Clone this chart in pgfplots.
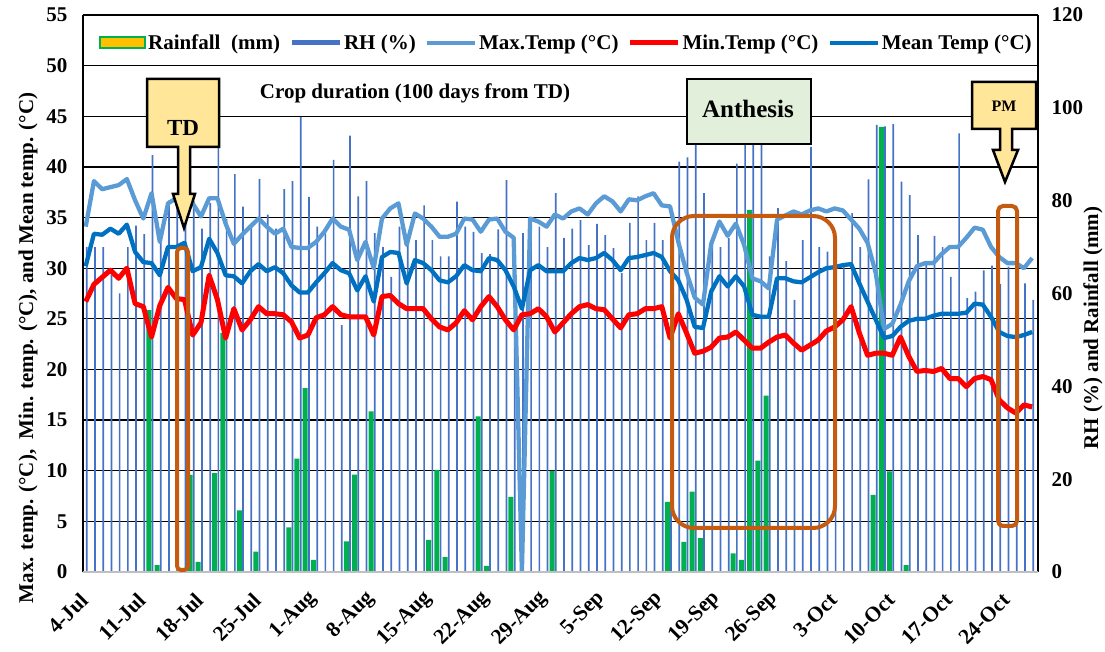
\documentclass[border=0pt]{standalone}
\usepackage{pgfplots}
\pgfplotsset{compat=1.18}
\usepackage{pgfplotstable}
\usepackage{fontspec}
\setmainfont{Liberation Serif}
\definecolor{maxc}{HTML}{5B9BD5}
\definecolor{meanc}{HTML}{0070C0}
\definecolor{minc}{HTML}{FF0000}
\definecolor{rhc}{HTML}{4472C4}
\definecolor{rainc}{HTML}{00B050}
\definecolor{gold}{HTML}{FFC000}
\definecolor{orng}{HTML}{C55A11}
\definecolor{callout}{HTML}{FFE699}
\definecolor{anth}{HTML}{E2EFDA}

\pgfplotstableread{
i max min mean rh
0 34.1 26.7 30.2 70
1 38.6 28.4 33.4 70
2 37.8 29.1 33.3 70
3 38.0 29.8 33.9 64
4 38.2 29.0 33.4 60
5 38.8 30.0 34.3 70
6 36.7 26.5 31.6 74.6
7 34.9 26.2 30.6 72.8
8 37.4 23.2 30.5 89.8
9 32.6 26.3 29.3 72
10 36.4 28.1 32.1 80
11 36.9 27.0 32.1 81
12 35.7 26.9 32.5 76
13 36.4 23.4 29.7 80
14 35.1 24.6 30.1 74
15 36.9 29.3 32.9 79.5
16 36.9 26.9 31.5 92
17 34.4 23.1 29.3 76
18 32.4 26.0 29.2 85.7
19 33.3 23.9 28.5 78.7
20 34.1 24.9 29.7 75
21 34.9 26.2 30.4 84.7
22 34.1 25.5 29.7 77
23 33.4 25.5 30.1 74
24 33.9 25.4 29.5 82.5
25 32.1 24.7 28.3 84.2
26 32.0 23.1 27.6 98
27 32.0 23.4 27.6 80.8
28 32.6 25.1 28.6 74.4
29 33.6 25.4 29.5 74
30 34.9 26.2 30.5 88.8
31 34.1 25.4 29.8 53.2
32 33.8 25.2 29.5 94
33 30.8 25.2 27.8 80.9
34 32.6 25.2 29.2 84.2
35 30.0 23.4 26.7 73
36 34.9 27.2 31.1 70
37 35.9 27.3 31.6 63.6
38 36.4 26.5 31.5 74.4
39 32.3 26.0 28.5 71
40 35.4 26.0 30.8 71.5
41 34.9 26.0 30.5 79
42 34.1 25.0 29.8 71.5
43 33.1 24.2 28.8 68
44 33.1 23.9 28.6 68
45 33.4 24.6 29.2 79.8
46 34.9 25.8 30.3 74.4
47 34.8 24.9 29.8 73.3
48 33.6 26.2 29.7 68.7
49 34.8 27.2 31.0 68.5
50 34.9 26.2 30.8 73.8
51 33.6 24.9 29.8 84.4
52 33.0 23.9 28.2 65
53 0 25.4 26.0 73
54 34.9 25.5 29.8 74
55 34.6 26.0 30.3 74.4
56 34.1 25.2 29.7 70
57 35.3 23.7 29.7 81.6
58 34.9 24.6 29.7 72
59 35.6 25.5 30.5 74
60 35.9 26.2 31.0 75.8
61 35.3 26.4 30.8 70.4
62 36.4 26.0 31.0 75
63 37.1 25.9 31.5 72.6
64 36.6 25.0 30.8 69.8
65 35.6 24.1 29.8 64.4
66 36.8 25.4 31.0 75.2
67 36.7 25.5 31.1 80.9
68 37.1 26.0 31.3 71.5
69 37.4 26.0 31.5 75.2
70 36.2 26.2 31.1 71.5
71 36.1 23.1 29.7 72
72 32.6 25.5 28.8 88.4
73 29.6 23.6 26.9 89.3
74 27.1 21.6 24.2 95
75 26.4 21.8 24.1 81.6
76 32.4 22.2 27.7 72
77 34.6 23.1 29.2 70
78 33.2 23.2 28.2 72
79 34.4 23.7 29.2 88
80 32.3 22.9 28.2 95
81 29.0 22.1 25.4 95
82 28.7 22.1 25.2 95
83 28.0 22.7 25.2 68
84 34.8 23.2 29.0 78.4
85 35.2 23.4 29.0 67
86 35.6 22.6 28.7 58.6
87 35.3 21.9 28.6 71.5
88 35.7 22.4 29.1 91.6
89 35.9 22.9 29.6 70
90 35.6 23.8 30.0 69
91 35.9 24.2 30.1 66
92 35.7 24.9 30.3 66
93 34.8 26.2 30.4 77.3
94 33.9 23.6 28.5 70
95 32.5 21.4 26.7 84.6
96 29.5 21.6 24.9 96.3
97 24.0 21.6 23.1 96
98 24.5 21.4 23.3 96.5
99 26.4 23.2 24.2 84.1
100 28.7 21.3 24.8 81.2
101 30.2 19.8 25.0 72.6
102 30.5 19.9 25.0 67
103 30.5 19.8 25.3 72.4
104 31.4 20.1 25.5 70
105 32.1 19.1 25.5 63.6
106 32.1 19.1 25.5 94.5
107 33.0 18.3 25.6 59
108 34.0 19.1 26.5 60.4
109 33.8 19.3 26.4 65
110 32.1 19.0 25.2 66
111 31.1 17.0 23.7 62
112 30.5 16.2 23.3 65.8
113 30.5 15.7 23.2 58
114 30.0 16.5 23.4 62.2
115 31.0 16.3 23.7 58.6
}\data

\pgfplotstableread{
i rain
8 56.4
9 1.5
13 20.9
14 2.2
16 21.3
17 51.5
19 13.3
21 4.4
25 9.6
26 24.4
27 39.6
28 2.6
32 6.6
33 21.0
35 34.6
42 6.9
43 22.0
44 3.2
48 33.5
49 1.3
52 16.2
57 21.8
71 15.1
73 6.5
74 17.3
75 7.3
79 4.0
80 2.6
81 78.0
82 24.0
83 38.0
96 16.6
97 95.9
98 21.7
100 1.5
}\rain

\begin{document}
\begin{tikzpicture}
\useasboundingbox (-83pt,-80pt) rectangle (1022pt,572pt);
% grid, left ticks, x ticks
\begin{axis}[at={(0pt,0pt)}, anchor=south west, scale only axis,
  width=955pt, height=557pt,
  xmin=-0.33, xmax=115.71, ymin=0, ymax=55,
  ytick={0,5,...,55}, xtick={0,7,...,112},
  xticklabels={4-Jul,11-Jul,18-Jul,25-Jul,1-Aug,8-Aug,15-Aug,22-Aug,29-Aug,5-Sep,12-Sep,19-Sep,26-Sep,3-Oct,10-Oct,17-Oct,24-Oct},
  ymajorgrids, grid style={black, line width=1.3pt},
  axis line style={draw=none}, major tick length=0pt,
  yticklabel style={font=\fontsize{21}{24}\selectfont\bfseries, xshift=-12pt},
  xticklabel style={font=\fontsize{21.5}{24}\selectfont\bfseries, xshift=4pt, yshift=-30pt, rotate=45, anchor=south east, inner sep=0pt},
  /pgf/number format/assume math mode=true,
]
\addplot[draw=none] coordinates {(0,0)};
\end{axis}
% bars, right axis
\begin{axis}[at={(0pt,0pt)}, anchor=south west, scale only axis,
  width=955pt, height=557pt,
  xmin=-0.33, xmax=115.71, ymin=0, ymax=120,
  axis y line*=right, axis x line=none,
  ytick={0,20,...,120}, axis line style={draw=none}, major tick length=0pt,
  tick label style={font=\fontsize{21}{24}\selectfont\bfseries},
  yticklabel style={xshift=10pt},
  /pgf/number format/assume math mode=true,
]
\addplot[ybar, bar width=1.7pt, bar shift=1pt, fill=rhc, draw=none] table[x=i,y=rh]{\data};
\addplot[ybar, bar width=5pt, bar shift=-2.7pt, fill=rainc, draw=none] table[x=i,y=rain]{\rain};
\end{axis}
% lines + legend
\begin{axis}[at={(0pt,0pt)}, anchor=south west, scale only axis,
  width=955pt, height=557pt,
  xmin=-0.33, xmax=115.71, ymin=0, ymax=55, hide axis,
  legend columns=5, legend cell align=left,
  legend style={at={(0.506,0.95)}, anchor=center, draw=none, fill=none,
    font=\fontsize{21}{24}\selectfont\bfseries, nodes={inner sep=2pt},
    /tikz/every even column/.append style={column sep=7pt}},
  legend image code/.code={\draw[#1, line cap=butt] (0pt,0pt) -- (48pt,0pt);},
]
\addlegendimage{legend image code/.code={\draw[draw=rainc, line width=2.5pt, fill=gold] (0pt,-5pt) rectangle (45pt,6pt);}}
\addlegendentry{Rainfall\ \ (mm)}
\addlegendimage{rhc, line width=5pt}
\addlegendentry{RH (\%)}
\addplot[maxc, line width=4.3pt, line join=round] table[x=i,y=max]{\data};
\addlegendentry{Max.Temp (°C)}
\addplot[minc, line width=5pt, line join=round] table[x=i,y=min]{\data};
\addlegendentry{Min.Temp (°C)}
\addplot[meanc, line width=4.3pt, line join=round] table[x=i,y=mean]{\data};
\addlegendentry{Mean Temp (°C)}
\end{axis}
% frame
\draw[black, line width=1.5pt] (0pt,0pt) -- (0pt,557pt);
\draw[black, line width=1.5pt] (955pt,0pt) -- (955pt,557pt);
\draw[black, line width=1.3pt] (0pt,557pt) -- (955pt,557pt);
\draw[black!25, line width=2pt] (0pt,0pt) -- (955pt,0pt);
% annotations
\node[font=\fontsize{21}{24}\selectfont\bfseries] at (332pt,479pt) {Crop duration (100 days from TD)};
\draw[orng, line width=4pt, rounded corners=4pt] (94pt,2pt) rectangle (105pt,324pt);
\draw[orng, line width=4pt, rounded corners=22pt] (589pt,44pt) rectangle (752pt,356pt);
\draw[orng, line width=4pt, rounded corners=5pt] (915pt,46pt) rectangle (934pt,366pt);
\draw[fill=callout, draw=black, line width=2.5pt, line join=miter]
  (64pt,493pt) -- (136pt,493pt) -- (136pt,425pt) -- (107pt,425pt) -- (107pt,378pt) -- (112pt,378pt)
  -- (101pt,344pt) -- (90pt,378pt) -- (95pt,378pt) -- (95pt,425pt) -- (64pt,425pt) -- cycle;
\node[font=\fontsize{23}{26}\selectfont\bfseries] at (100pt,444pt) {TD};
\draw[fill=callout, draw=black, line width=2.5pt, line join=miter]
  (889pt,490pt) -- (953pt,490pt) -- (953pt,443pt) -- (929pt,443pt) -- (929pt,422pt) -- (935pt,422pt)
  -- (922pt,390pt) -- (910pt,422pt) -- (917pt,422pt) -- (917pt,443pt) -- (889pt,443pt) -- cycle;
\node[font=\fontsize{16}{18}\selectfont\bfseries] at (921pt,466pt) {PM};
\draw[fill=anth, draw=black, line width=1.5pt] (604pt,493pt) rectangle (728pt,428pt);
\node[font=\fontsize{25}{28}\selectfont\bfseries] at (665pt,463pt) {Anthesis};
% axis titles
\node[rotate=90, font=\fontsize{21}{24}\selectfont\bfseries] at (-55pt,224pt) {Max. temp. (°C),\ \ Min. temp. (°C), and Mean temp. (°C)};
\node[rotate=90, font=\fontsize{21}{24}\selectfont\bfseries] at (1010pt,244pt) {RH (\%) and Rainfall (mm)};
\end{tikzpicture}
\end{document}
